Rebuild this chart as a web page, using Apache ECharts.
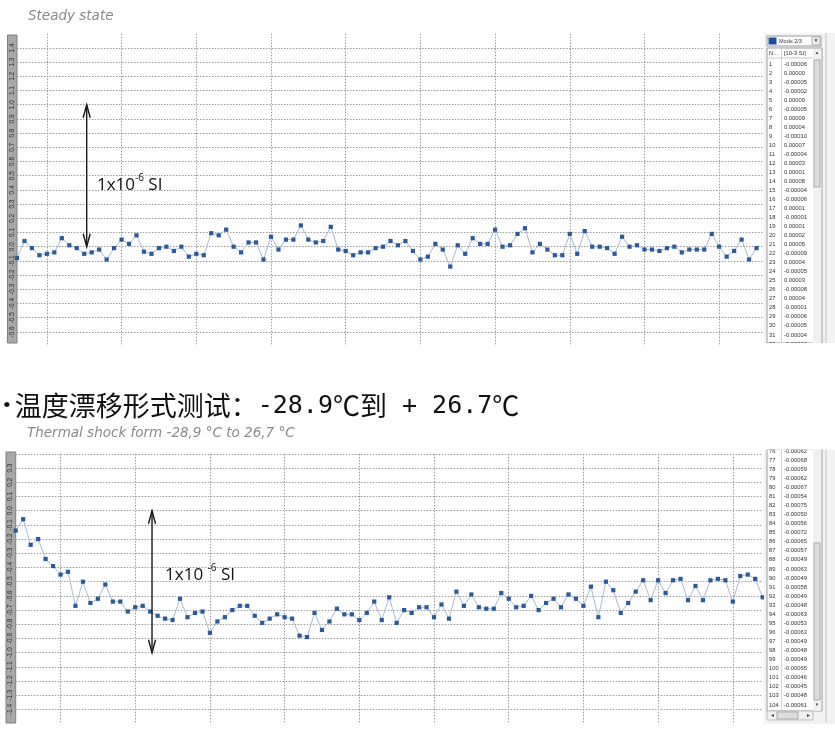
<!DOCTYPE html>
<html><head><meta charset="utf-8">
<script src="https://cdn.jsdelivr.net/npm/echarts@6/dist/echarts.min.js"></script>
<style>html,body{margin:0;padding:0;background:#fff;}#c{width:835px;height:736px;}</style>
</head><body><div id="c"></div>
<script>
// ---- data ----
const steadyCategories = Array.from({length: 101}, (_, i) => String(i + 1));
const steadyValues = [
 -0.08, 0.04,-0.01,-0.06,-0.05,-0.04, 0.06, 0.01,-0.01,-0.05,
 -0.04,-0.02,-0.09,-0.01, 0.05, 0.02, 0.08,-0.035,-0.05,-0.01,
  0.00,-0.03, 0.00,-0.07,-0.05,-0.06, 0.095, 0.08, 0.12, 0.00,
 -0.04, 0.03, 0.03,-0.09, 0.07,-0.02, 0.05, 0.05, 0.15, 0.05,
  0.03, 0.04, 0.14,-0.02,-0.03,-0.06,-0.04,-0.04,-0.01, 0.00,
  0.04, 0.01, 0.04,-0.03,-0.09,-0.07, 0.02,-0.02,-0.14, 0.01,
 -0.05, 0.06, 0.02, 0.02, 0.12, 0.00, 0.01, 0.09, 0.13,-0.04,
  0.02,-0.02,-0.06,-0.06, 0.09,-0.05, 0.11, 0.00, 0.00,-0.01,
 -0.05, 0.07, 0.00, 0.01,-0.02,-0.02,-0.03,-0.01, 0.00,-0.04,
 -0.02,-0.02,-0.02, 0.09, 0.00,-0.07,-0.03, 0.05,-0.09,-0.01
];
const shockCategories = Array.from({length: 101}, (_, i) => String(i + 1));
const shockValues = [
 -0.14,-0.06,-0.24,-0.20,-0.34,-0.39,-0.45,-0.43,-0.67,-0.50,
 -0.65,-0.62,-0.52,-0.64,-0.64,-0.71,-0.68,-0.67,-0.71,-0.74,
 -0.76,-0.77,-0.62,-0.75,-0.72,-0.71,-0.86,-0.78,-0.75,-0.70,
 -0.67,-0.67,-0.74,-0.79,-0.76,-0.73,-0.75,-0.76,-0.88,-0.89,
 -0.72,-0.84,-0.78,-0.69,-0.73,-0.73,-0.77,-0.72,-0.64,-0.77,
 -0.61,-0.79,-0.70,-0.72,-0.68,-0.68,-0.75,-0.66,-0.76,-0.57,
 -0.67,-0.59,-0.68,-0.69,-0.69,-0.58,-0.62,-0.68,-0.67,-0.60,
 -0.70,-0.65,-0.62,-0.68,-0.59,-0.62,-0.67,-0.535,-0.75,-0.50,
 -0.56,-0.72,-0.65,-0.57,-0.49,-0.63,-0.49,-0.58,-0.49,-0.48,
 -0.63,-0.53,-0.63,-0.49,-0.48,-0.49,-0.64,-0.46,-0.45,-0.48,
 -0.61
];
// table texts (right panels)
const topTableIndex = ['1','2','3','4','5','6','7','8','9','10','11','12','13','14','15','16','17','18','19','20','21','22','23','24','25','26','27','28','29','30','31','32'];
const topTableValues = ['-0.00006','0.00000','-0.00005','-0.00002','0.00009','-0.00005','0.00009','0.00004','-0.00010','0.00007','-0.00004','0.00003','0.00001','0.00008','-0.00004','-0.00006','0.00001','-0.00001','0.00001','0.00002','0.00005','-0.00009','0.00004','-0.00005','0.00003','-0.00008','0.00004','-0.00001','-0.00006','-0.00005','-0.00004','-0.00006'];
const bottomTableIndex = ['76','77','78','79','80','81','82','83','84','85','86','87','88','89','90','91','92','93','94','95','96','97','98','99','100','101','102','103','104'];
const bottomTableValues = ['-0.00062','-0.00068','-0.00059','-0.00062','-0.00067','-0.00054','-0.00075','-0.00050','-0.00056','-0.00072','-0.00065','-0.00057','-0.00049','-0.00063','-0.00049','-0.00058','-0.00049','-0.00048','-0.00063','-0.00053','-0.00063','-0.00049','-0.00048','-0.00049','-0.00065','-0.00046','-0.00045','-0.00048','-0.00061'];
const titleTop = 'Steady state';
const titleMainParts = ['•', '温度漂移形式测试：', '-28.9', '℃', '到', ' + ', '26.7', '℃'];
const titleBottom = 'Thermal shock form -28,9 °C to 26,7 °C';
const tableHeader = ['N...', '[10-3 SI]'];
const modeLabel = 'Mode 2/3';

// ---- chart ----
const chart = echarts.init(document.getElementById('c'));
const gridLine = {show: true, lineStyle: {color: '#9a9a9a', type: [1.5, 1.5], width: 1}};
const fmt = v => (Math.abs(v) < 1e-9 ? '0.0' : v.toFixed(1));
function xAx(gridIndex, cats, every, offset) {
  return {type: 'category', gridIndex, data: cats, boundaryGap: false,
    axisLine: {show: false}, axisTick: {show: false}, axisLabel: {show: false},
    splitLine: Object.assign({}, gridLine, {interval: (i) => i % every === offset})};
}
function yAx(gridIndex, min, max, showMax) {
  return {type: 'value', gridIndex, min, max, interval: 0.1,
    axisLine: {show: false}, axisTick: {show: false},
    axisLabel: {show: true, rotate: 90, margin: 1.5, fontSize: 6.5, color: '#2a2a2a',
      fontFamily: 'Liberation Sans', formatter: fmt, showMaxLabel: false, showMinLabel: false},
    splitLine: Object.assign({}, gridLine, {showMinLine: false, showMaxLine: showMax})};
}
const lineSeries = (xi, data) => ({type: 'line', xAxisIndex: xi, yAxisIndex: xi, data,
  symbol: 'rect', symbolSize: 4.2, showSymbol: true, showAllSymbol: true,
  lineStyle: {color: '#a7bad3', width: 1}, itemStyle: {color: '#2b5a9b'},
  emphasis: {disabled: true}, silent: true, z: 3});

chart.setOption({
  animation: false,
  backgroundColor: '#fff',
  grid: [
    {left: 17, top: 33.7, width: 747, height: 312.4},
    {left: 15.7, top: 453.9, width: 747, height: 269.8},
    {left: 7.5, top: 35, width: 9.5, height: 308, show: true, backgroundColor: '#a8a8a8', borderColor: '#808080', borderWidth: 1},
    {left: 6, top: 452, width: 9.7, height: 271, show: true, backgroundColor: '#a8a8a8', borderColor: '#808080', borderWidth: 1}
  ],
  xAxis: [xAx(0, steadyCategories, 10, 4), xAx(1, shockCategories, 10, 6)],
  yAxis: [yAx(0, -0.7, 1.5, false), yAx(1, -1.5, 0.4, true)],
  series: [lineSeries(0, steadyValues), lineSeries(1, shockValues)]
});

// ---- overlays (arrows, labels, texts, tables) ----
function px(gi, idx, val) {
  const i0 = Math.floor(idx), f = idx - i0;
  const a = chart.convertToPixel({xAxisIndex: gi, yAxisIndex: gi}, [i0, val]);
  const b = chart.convertToPixel({xAxisIndex: gi, yAxisIndex: gi}, [i0 + 1, val]);
  return [a[0] + (b[0] - a[0]) * f, a[1]];
}
function arrow(gi, idx, v0, v1) {
  const p0 = px(gi, idx, v0), p1 = px(gi, idx, v1);
  const x = p0[0], hw = 3.5, hh = 13;
  const d0 = p0[1] < p1[1] ? 1 : -1;
  const st = {stroke: '#1a1a1a', lineWidth: 1.4, fill: null};
  return [
    {type: 'line', shape: {x1: x, y1: p0[1], x2: x, y2: p1[1]}, style: st, z: 10},
    {type: 'polyline', shape: {points: [[x - hw, p0[1] + d0 * hh], [x, p0[1]], [x + hw, p0[1] + d0 * hh]]}, style: st, z: 10},
    {type: 'polyline', shape: {points: [[x - hw, p1[1] - d0 * hh], [x, p1[1]], [x + hw, p1[1] - d0 * hh]]}, style: st, z: 10}
  ];
}
function unitLabel(gi, idx, val, spaced) {
  const p = px(gi, idx, val);
  return {type: 'text', x: p[0], y: p[1], z: 10, style: {
    text: spaced ? '{a|1x10 }{b|-6}{a| SI}' : '{a|1x10}{b|-6}{a| SI}',
    verticalAlign: 'middle', align: 'left',
    rich: {a: {fontSize: 17, fontFamily: 'Open Sans', fill: '#111', lineHeight: 20, verticalAlign: 'bottom'},
           b: {fontSize: 10, fontFamily: 'Open Sans', fill: '#111', lineHeight: 20, verticalAlign: 'top'}}
  }};
}
function txt(x, y, text, size, fill, extra) {
  return {type: 'text', x, y, z: 12, style: Object.assign({text, fontSize: size, fill, verticalAlign: 'middle', align: 'left', fontFamily: 'Liberation Sans'}, extra || {})};
}
function table(x0, top, height, idxs, vals, firstY, rowH, header) {
  const els = [];
  els.push({type: 'rect', shape: {x: x0, y: top, width: 55, height}, style: {fill: '#fff', stroke: '#9c9c9c', lineWidth: 1}, z: 11});
  idxs.forEach((t, i) => {
    els.push(txt(x0 + 2, firstY + i * rowH, t, 5.8, '#333'));
    els.push(txt(x0 + 17, firstY + i * rowH, vals[i], 5.8, '#333'));
  });
  if (header) {
    els.push(txt(x0 + 2, top + 5, tableHeader[0], 5.8, '#333'));
    els.push(txt(x0 + 17, top + 5, tableHeader[1], 5.8, '#333'));
    els.push({type: 'line', shape: {x1: x0, y1: top + 10, x2: x0 + 46, y2: top + 10}, style: {stroke: '#c8c8c8'}, z: 12});
  }
  els.push({type: 'line', shape: {x1: x0 + 14.5, y1: top, x2: x0 + 14.5, y2: top + height}, style: {stroke: '#d6d6d6'}, z: 12});
  return els;
}
const g = [];
g.push(...arrow(0, 9.33, 0, 1));
g.push(unitLabel(0, 10.7, 0.445, false));
g.push(...arrow(1, 18.25, 0, -1));
g.push(unitLabel(1, 20.0, -0.44, true));
g.push(txt(28, 16, titleTop, 13.5, '#8a8a8a', {fontStyle: 'italic', fontFamily: 'DejaVu Sans'}));
g.push({type: 'text', x: 3, y: 406, z: 12, style: {
  text: '{u|' + titleMainParts[0] + '}{c|' + titleMainParts[1] + '}{n|' + titleMainParts[2] + '}{c|' + titleMainParts[3] + titleMainParts[4] + '}{n|' + titleMainParts[5] + titleMainParts[6] + '}{c|' + titleMainParts[7] + '}',
  verticalAlign: 'middle', align: 'left',
  rich: {u: {fontSize: 22, fontFamily: 'Liberation Serif', fill: '#111', lineHeight: 30, padding: [0, 4, 0, 0]},
         c: {fontSize: 27, fontFamily: 'Noto Sans CJK SC', fill: '#111', lineHeight: 30},
         n: {fontSize: 25, fontFamily: 'DejaVu Sans Mono', fill: '#111', lineHeight: 30}}
}});
g.push(txt(27, 433, titleBottom, 13.5, '#8a8a8a', {fontStyle: 'italic', fontFamily: 'DejaVu Sans'}));
// top panel
g.push({type: 'rect', shape: {x: 764, y: 33, width: 71, height: 310}, style: {fill: '#f3f3f3'}, z: 10});
g.push({type: 'rect', shape: {x: 767, y: 36, width: 54, height: 10}, style: {fill: '#fff', stroke: '#9c9c9c'}, z: 11});
g.push({type: 'rect', shape: {x: 768.5, y: 37.5, width: 8, height: 7}, style: {fill: '#1f4e9c'}, z: 12});
g.push(txt(779, 41, modeLabel, 5.5, '#333'));
g.push({type: 'rect', shape: {x: 812, y: 37, width: 8, height: 8}, style: {fill: '#eee', stroke: '#b0b0b0'}, z: 12});
g.push(txt(816, 41, '▼', 5, '#333', {align: 'center'}));
g.push(...table(767, 48, 295, topTableIndex, topTableValues, 64.3, 9.02, true));
g.push({type: 'rect', shape: {x: 813, y: 49, width: 8, height: 294}, style: {fill: '#f0f0f0'}, z: 12});
g.push(txt(817, 53, '▲', 4.5, '#444', {align: 'center'}));
g.push({type: 'rect', shape: {x: 814, y: 60, width: 6, height: 127}, style: {fill: '#dcdcdc', stroke: '#ababab'}, z: 13});
g.push(txt(817, 122, '≡', 6, '#888', {align: 'center'}));
g.push({type: 'line', shape: {x1: 826, y1: 33, x2: 826, y2: 343}, style: {stroke: '#c4c4c4'}, z: 12});
g.push({type: 'rect', shape: {x: 760, y: 343, width: 75, height: 8}, style: {fill: '#fff'}, z: 14});
// bottom panel
g.push({type: 'rect', shape: {x: 764, y: 449, width: 71, height: 275}, style: {fill: '#f3f3f3'}, z: 10});
g.push(...table(767, 449, 262, bottomTableIndex, bottomTableValues, 451, 9.07, false));
g.push({type: 'rect', shape: {x: 813, y: 449, width: 8, height: 262}, style: {fill: '#f0f0f0'}, z: 12});
g.push({type: 'rect', shape: {x: 814, y: 543, width: 6, height: 157}, style: {fill: '#dcdcdc', stroke: '#ababab'}, z: 13});
g.push(txt(817, 622, '≡', 6, '#888', {align: 'center'}));
g.push(txt(817, 705, '▼', 4.5, '#444', {align: 'center'}));
g.push({type: 'rect', shape: {x: 767, y: 711, width: 46, height: 9}, style: {fill: '#f0f0f0', stroke: '#c0c0c0'}, z: 12});
g.push(txt(772, 715.5, '◂', 6, '#444', {align: 'center'}));
g.push(txt(808, 715.5, '▸', 6, '#444', {align: 'center'}));
g.push({type: 'rect', shape: {x: 777, y: 712, width: 21, height: 7}, style: {fill: '#dcdcdc', stroke: '#ababab'}, z: 13});
g.push(txt(787.5, 715.5, '|||', 4.5, '#888', {align: 'center'}));
g.push({type: 'line', shape: {x1: 826, y1: 449, x2: 826, y2: 722}, style: {stroke: '#c4c4c4'}, z: 12});
g.push({type: 'rect', shape: {x: 760, y: 441, width: 75, height: 8.5}, style: {fill: '#fff'}, z: 14});
chart.setOption({graphic: g});
</script></body></html>
